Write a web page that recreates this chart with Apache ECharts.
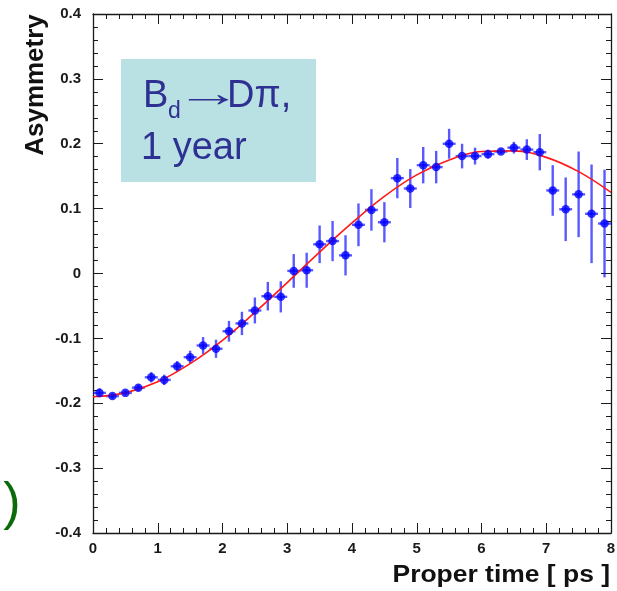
<!DOCTYPE html>
<html>
<head>
<meta charset="utf-8">
<title>Asymmetry vs proper time</title>
<script src="https://cdn.jsdelivr.net/npm/echarts@6/dist/echarts.min.js"></script>
<style>
  html, body { margin: 0; padding: 0; background: #ffffff; }
  #chart { width: 617px; height: 591px; }
</style>
</head>
<body>
<div id="chart"></div>
<script>
// Measured asymmetry per 0.2 ps proper-time bin
const binCenters = [0.1, 0.3, 0.5, 0.7, 0.9, 1.1, 1.3, 1.5, 1.7, 1.9,
                    2.1, 2.3, 2.5, 2.7, 2.9, 3.1, 3.3, 3.5, 3.7, 3.9,
                    4.1, 4.3, 4.5, 4.7, 4.9, 5.1, 5.3, 5.5, 5.7, 5.9,
                    6.1, 6.3, 6.5, 6.7, 6.9, 7.1, 7.3, 7.5, 7.7, 7.9];
const binHalfWidth = 0.1;
const asymmetry = [-0.184, -0.189, -0.184, -0.176, -0.160, -0.164, -0.143, -0.129, -0.111, -0.116,
                   -0.089, -0.077, -0.057, -0.035, -0.036, 0.004, 0.005, 0.045, 0.050, 0.028,
                   0.075, 0.098, 0.079, 0.147, 0.131, 0.167, 0.164, 0.200, 0.181, 0.181,
                   0.184, 0.188, 0.194, 0.191, 0.187, 0.128, 0.099, 0.122, 0.092, 0.077];
const asymmetryErr = [0.007, 0.004, 0.004, 0.005, 0.008, 0.008, 0.008, 0.010, 0.013, 0.014,
                      0.016, 0.018, 0.020, 0.022, 0.024, 0.026, 0.027, 0.029, 0.031, 0.031,
                      0.033, 0.032, 0.031, 0.031, 0.030, 0.028, 0.025, 0.023, 0.019, 0.013,
                      0.007, 0.004, 0.009, 0.016, 0.028, 0.039, 0.049, 0.066, 0.076, 0.083];

// Fitted oscillation curve, sampled every 0.5 ps
const fitTimes = [0, 0.5, 1, 1.5, 2, 2.5, 3, 3.5, 4, 4.5, 5, 5.5, 6, 6.5, 7, 7.5, 8];
const fitValues = [-0.190, -0.184, -0.167, -0.139, -0.103, -0.060, -0.014, 0.033, 0.078,
                   0.119, 0.152, 0.175, 0.188, 0.189, 0.179, 0.157, 0.125];

// Axis ranges and tick steps
const timeTicks = { min: 0, max: 8, step: 1 };
const asymTicks = { min: -0.4, max: 0.4, step: 0.1 };

const points = binCenters.map((t, i) => [t, asymmetry[i], asymmetryErr[i]]);
const fitLine = fitTimes.map((t, i) => [t, fitValues[i]]);

const AXIS_COLOR = '#1a1a1a';
const LABEL_FONT = 'Liberation Sans, Arial, Helvetica, sans-serif';
const BOX_TEXT = '#2e3192';

function frameAxis(extra) {
  return Object.assign({
    type: 'value',
    axisLine: { show: true, onZero: false, lineStyle: { color: AXIS_COLOR, width: 1.3 } },
    axisTick: { show: true, inside: true, length: 10, lineStyle: { color: AXIS_COLOR, width: 1 } },
    minorTick: { show: true, splitNumber: 5, length: 5, lineStyle: { color: AXIS_COLOR, width: 1 } },
    splitLine: { show: false },
    minorSplitLine: { show: false }
  }, extra);
}

const xCommon = { min: timeTicks.min, max: timeTicks.max, interval: timeTicks.step };
const yCommon = { min: asymTicks.min, max: asymTicks.max, interval: asymTicks.step };

const chart = echarts.init(document.getElementById('chart'), null, { renderer: 'canvas' });

chart.setOption({
  backgroundColor: '#ffffff',
  animation: false,
  grid: { left: 93, right: 6, top: 14, bottom: 58, containLabel: false, outerBoundsMode: 'none' },
  xAxis: [
    frameAxis(Object.assign({
      position: 'bottom',
      axisLabel: {
        show: true, margin: 8, color: AXIS_COLOR, fontSize: 15, fontWeight: 'bold',
        fontFamily: LABEL_FONT, showMinLabel: true, showMaxLabel: true
      }
    }, xCommon)),
    frameAxis(Object.assign({ position: 'top', axisLabel: { show: false } }, xCommon))
  ],
  yAxis: [
    frameAxis(Object.assign({
      position: 'left',
      axisLabel: {
        show: true, margin: 12, color: AXIS_COLOR, fontSize: 15, fontWeight: 'bold',
        fontFamily: LABEL_FONT, showMinLabel: true, showMaxLabel: true,
        formatter: v => (Math.abs(v) < 1e-9 ? '0' : v.toFixed(1))
      }
    }, yCommon)),
    frameAxis(Object.assign({ position: 'right', axisLabel: { show: false } }, yCommon))
  ],
  series: [
    {
      // horizontal bin-width bars and vertical error bars
      type: 'custom',
      name: 'errors',
      xAxisIndex: 0,
      yAxisIndex: 0,
      data: points,
      z: 2,
      renderItem: function (params, api) {
        const t = api.value(0), v = api.value(1), e = api.value(2);
        const left = api.coord([t - binHalfWidth, v]);
        const right = api.coord([t + binHalfWidth, v]);
        const top = api.coord([t, v + e]);
        const bottom = api.coord([t, v - e]);
        const style = { stroke: 'rgba(0,0,255,0.65)', lineWidth: 2.4 };
        return {
          type: 'group',
          children: [
            { type: 'line', shape: { x1: left[0], y1: left[1], x2: right[0], y2: right[1] }, style: style },
            { type: 'line', shape: { x1: top[0], y1: top[1], x2: bottom[0], y2: bottom[1] }, style: style }
          ]
        };
      }
    },
    {
      type: 'line',
      name: 'fit',
      xAxisIndex: 0,
      yAxisIndex: 0,
      data: fitLine,
      smooth: 0.4,
      showSymbol: false,
      symbol: 'none',
      z: 3,
      lineStyle: { color: '#ff1a1a', width: 1.6 }
    },
    {
      type: 'scatter',
      name: 'asymmetry',
      xAxisIndex: 0,
      yAxisIndex: 0,
      data: points.map(p => [p[0], p[1]]),
      symbol: 'circle',
      symbolSize: 8.5,
      z: 4,
      itemStyle: { color: '#0000ff' }
    }
  ],
  graphic: [
    {
      type: 'text',
      x: 35.5, y: 85,
      rotation: Math.PI / 2,
      style: {
        text: 'Asymmetry', fill: '#111111',
        font: 'bold 26px ' + LABEL_FONT,
        align: 'center', verticalAlign: 'middle'
      }
    },
    {
      type: 'text',
      x: 610, y: 576,
      scaleX: 1.15,
      style: {
        text: 'Proper time [ ps ]', fill: '#111111',
        font: 'bold 23px ' + LABEL_FONT,
        align: 'right', verticalAlign: 'middle'
      }
    },
    {
      type: 'rect',
      shape: { x: 121, y: 59, width: 195, height: 123 },
      style: { fill: '#b9e0e3' },
      z: 10
    },
    {
      type: 'text', x: 143, y: 96.5, z: 11,
      style: { text: 'B', fill: BOX_TEXT, font: '38px ' + LABEL_FONT, align: 'left', verticalAlign: 'middle' }
    },
    {
      type: 'text', x: 168, y: 112, z: 11,
      style: { text: 'd', fill: BOX_TEXT, font: '23px ' + LABEL_FONT, align: 'left', verticalAlign: 'middle' }
    },
    {
      type: 'text', x: 175, y: 96, z: 11,
      scaleX: 1.75,
      style: { text: '→', fill: BOX_TEXT, font: '38px ' + LABEL_FONT, align: 'left', verticalAlign: 'middle' }
    },
    {
      type: 'text', x: 227, y: 96.5, z: 11,
      style: { text: 'Dπ,', fill: BOX_TEXT, font: '38px ' + LABEL_FONT, align: 'left', verticalAlign: 'middle' }
    },
    {
      type: 'text', x: 141, y: 148.5, z: 11,
      style: { text: '1 year', fill: BOX_TEXT, font: '38px ' + LABEL_FONT, align: 'left', verticalAlign: 'middle' }
    },
    {
      type: 'text', x: 12, y: 505, z: 11,
      style: { text: ')', fill: '#0b6b0b', font: '52px ' + LABEL_FONT, align: 'center', verticalAlign: 'middle' }
    }
  ]
});
</script>
</body>
</html>
